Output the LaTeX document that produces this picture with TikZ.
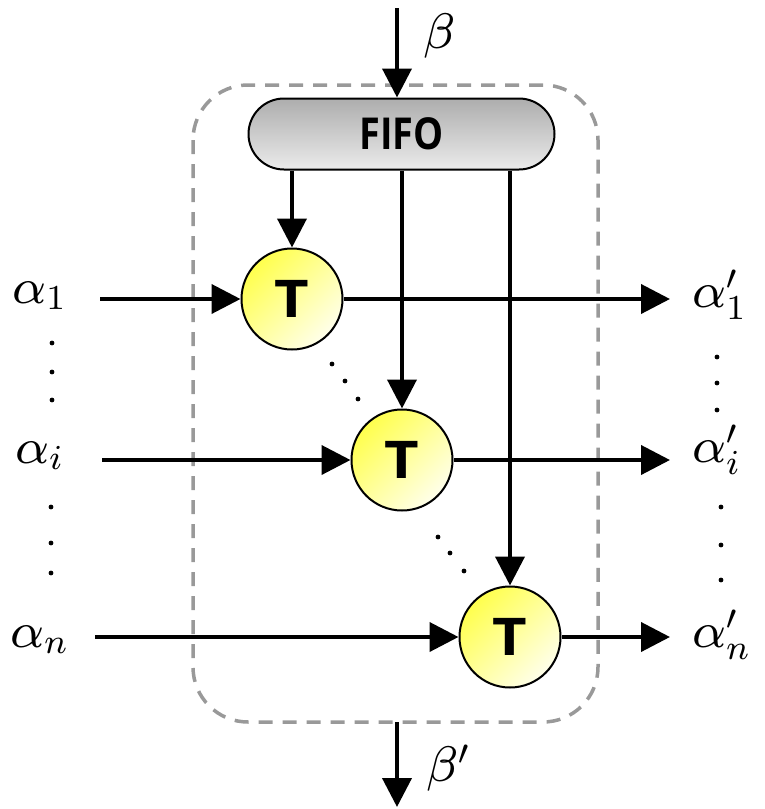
\RequirePackage{fix-cm}
\documentclass[tikz,border=0pt]{standalone}
\usepackage[no-math]{fontspec}
\newfontfamily\labelsans{Open Sans}
\usetikzlibrary{arrows.meta,shapes.misc}
% heavier design sizes for the large math labels
\DeclareFontShape{OML}{cmm}{m}{it}{<->cmmi8}{}
\DeclareFontShape{OT1}{cmr}{m}{n}{<->cmr8}{}
\DeclareFontShape{OMS}{cmsy}{m}{n}{<->cmsy8}{}
\begin{document}
\begin{tikzpicture}[x=1pt,y=-1pt,
  flow/.style={line width=4pt,-{Triangle[length=29pt,width=29pt]}},
  tnode/.style={circle,draw,line width=2pt,minimum size=101pt,inner sep=0pt,
    top color=yellow!70,bottom color=yellow!8,shading angle=45,
    font=\labelsans\bfseries\fontsize{52}{54}\selectfont},
  fifobox/.style={rounded rectangle,draw,line width=2pt,minimum width=306pt,
    minimum height=71pt,inner sep=0pt,top color=black!32,bottom color=black!8,
    font=\labelsans\bfseries\fontsize{44}{46}\selectfont},
  lbl/.style={inner sep=0pt,font=\fontsize{50}{52}\selectfont},
  dot/.style={fill=black},
  frame/.style={draw=black!40,line width=3.5pt,dash pattern=on 14pt off 10pt,
    rounded corners=55pt}
]
\useasboundingbox (0,0) rectangle (764,809);

% dashed enclosure
\draw[frame] (193,85) rectangle (598,722);

% FIFO buffer and the three T blocks
\node[fifobox] (fifo) at (401.5,134) {\scalebox{0.86}[1]{FIFO}};
\node[tnode] (t1) at (292,299) {\scalebox{1.15}[1]{T}};
\node[tnode] (t2) at (402,460) {\scalebox{1.15}[1]{T}};
\node[tnode] (t3) at (510,637) {\scalebox{1.15}[1]{T}};

% input / output label nodes
\node[lbl,anchor=base west] (a1) at (12,303) {$\alpha_1$};
\node[lbl,anchor=base west] (ai) at (15,463) {$\alpha_i$};
\node[lbl,anchor=base west] (an) at (10,647) {$\alpha_n$};
\node[lbl,anchor=base west] (b1) at (692,307) {$\alpha'_1$};
\node[lbl,anchor=base west] (bi) at (692,462) {$\alpha'_i$};
\node[lbl,anchor=base west] (bn) at (692,647) {$\alpha'_n$};
\node[lbl] (beta) at (440,36) {$\beta$};
\node[lbl] (betap) at (448,768) {$\beta'$};

% free ends of the connectors
\coordinate (btop) at (397,8);
\coordinate (bbot) at (397,722);
\coordinate (bend) at (397,807);
\coordinate (i1) at (100,299);
\coordinate (ii) at (102,460);
\coordinate (in) at (95,637);
\coordinate (o1) at (670,299);
\coordinate (oi) at (670,460);
\coordinate (on) at (670,637);

% connectors
\draw[flow] (btop) -- (fifo.north -| btop);
\draw[flow] (fifo.south -| t1) -- (t1.north);
\draw[flow] (fifo.south -| t2) -- (t2.north);
\draw[flow] (fifo.south -| t3) -- (t3.north);
\draw[flow] (i1) -- (t1.west);
\draw[flow] (ii) -- (t2.west);
\draw[flow] (in) -- (t3.west);
\draw[flow] (t1.east) -- (o1);
\draw[flow] (t2.east) -- (oi);
\draw[flow] (t3.east) -- (on);
\draw[flow] (bbot) -- (bend);

% ellipsis dots
\foreach \p in {(52,343),(52,372),(52,400),(51,507),(51,543),(51,573),
                (717,357),(717,383),(717,410),(721,507),(721,545),(721,580),
                (332,364),(345,381),(358,399),(438,537),(450,553),(464,571)}
  \fill[dot] \p circle (2.4pt);
\end{tikzpicture}
\end{document}
